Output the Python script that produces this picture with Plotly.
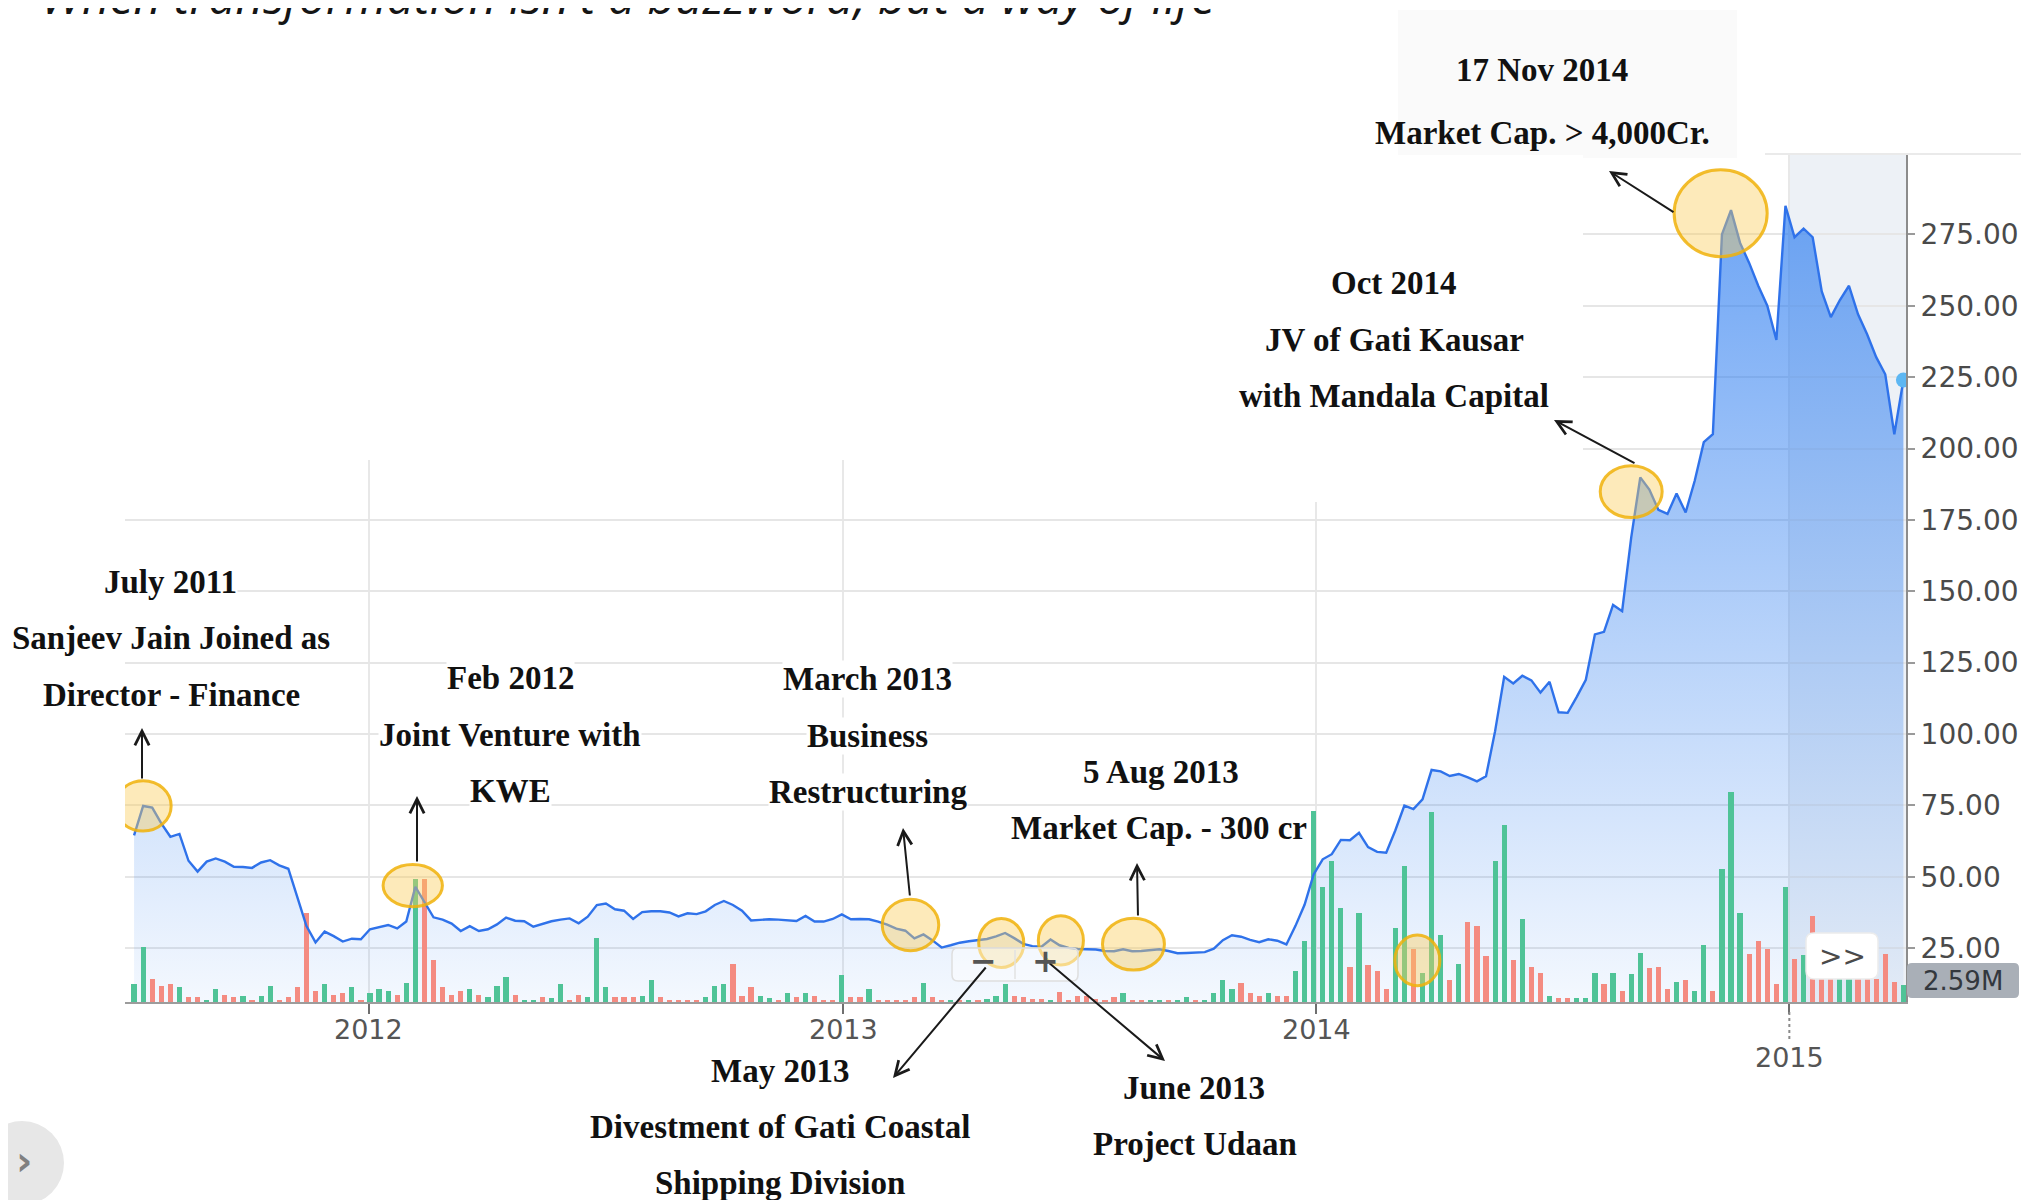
import plotly.graph_objects as go
import pandas as pd

# ---------------- data ----------------
week_start = "2011-07-04"
n_weeks = 196

price = [
    64.5, 74.8, 74.2, 68.7, 64.0, 65.0, 55.6, 51.8, 55.3, 56.4,
    55.3, 53.5, 53.4, 53.1, 55.0, 55.8, 54.0, 52.8, 42.8, 32.7,
    27.0, 30.8, 29.2, 27.3, 28.3, 28.1, 31.6, 32.4, 33.1, 31.9,
    34.3, 46.5, 40.9, 35.8, 35.0, 33.6, 31.0, 32.7, 31.0, 31.6,
    33.3, 35.7, 34.6, 34.4, 32.5, 33.4, 34.4, 35.0, 35.4, 33.7,
    36.0, 40.1, 40.6, 38.6, 38.1, 35.2, 37.6, 37.9, 37.9, 37.5,
    36.1, 37.2, 36.9, 37.9, 40.1, 41.5, 40.1, 38.1, 34.7, 34.9,
    35.1, 35.0, 34.8, 34.5, 36.3, 34.3, 34.3, 35.2, 36.8, 35.1,
    35.2, 35.1, 34.3, 33.2, 31.8, 31.1, 28.4, 29.8, 27.7, 25.2,
    26.0, 26.9, 27.4, 27.7, 28.2, 29.1, 30.3, 28.5, 26.5, 25.7,
    25.5, 28.0, 26.0, 25.1, 24.7, 24.6, 24.5, 24.0, 23.9, 24.6,
    23.9, 24.0, 24.4, 24.6, 24.0, 23.2, 23.3, 23.4, 23.6, 24.8,
    27.8, 29.5, 29.0, 27.9, 27.1, 28.1, 27.6, 26.3, 32.8, 40.2,
    50.8, 56.1, 57.9, 62.9, 62.8, 65.4, 60.4, 58.7, 58.4, 66.2,
    74.9, 73.7, 77.1, 87.4, 86.9, 85.3, 86.0, 84.8, 83.4, 85.2,
    101.0, 120.0, 117.7, 120.4, 118.8, 114.5, 118.3, 107.6, 107.4, 113.0,
    119.0, 134.9, 135.8, 145.2, 143.0, 168.8, 189.9, 185.6, 178.5, 177.1,
    184.2, 177.6, 188.7, 202.2, 205.0, 275.0, 283.5, 272.0, 265.0, 257.0,
    250.0, 238.0, 285.0, 274.0, 277.0, 274.0, 255.0, 246.0, 252.0, 257.0,
    247.0, 240.0, 232.0, 226.0, 205.0, 224.0,
]

volume_m = [
    2.8, 8.3, 3.5, 2.4, 2.8, 2.2, 0.7, 0.7, 0.35, 1.9, 1.0, 0.7, 0.9, 0.35, 0.9, 2.4,
    0.35, 0.7, 2.2, 13.5, 1.7, 2.7, 1.0, 1.4, 2.2, 0.35, 1.4, 1.9, 1.7, 1.0, 2.9, 18.6,
    18.6, 6.4, 2.2, 1.0, 1.7, 1.9, 1.0, 0.7, 2.4, 3.8, 1.0, 0.35, 0.35, 0.7,
    0.65,
    2.7, 0.35, 1.0, 0.75, 9.7, 2.2, 0.75, 0.75, 0.75, 0.9, 3.3, 0.75, 0.35, 0.35, 0.35,
    0.25, 0.75, 2.4, 2.7, 5.7, 0.9, 2.2, 0.9, 0.65, 0.25, 1.3, 0.75, 1.3, 0.9, 0.35,
    0.35, 4.1, 0.75, 0.75, 1.9, 0.25, 0.25, 0.25, 0.35, 0.75, 2.9, 0.75, 0.35,
    0.35, 0.35, 0.35, 0.35, 0.5, 0.9, 2.7, 0.9, 0.75, 0.5, 0.5, 0.35, 1.5, 0.35, 0.9,
    0.9, 0.5, 0.35, 0.75, 1.3, 0.35, 0.35, 0.25, 0.25, 0.25, 0.25, 0.75, 0.25, 0.25,
    1.3, 3.3, 1.9, 2.9, 1.3, 0.9, 1.3, 0.9, 0.9, 4.7,
    9.2, 29.0, 17.4, 21.4, 14.3, 5.3, 13.5, 5.6, 4.7, 1.9, 11.2, 20.6, 8.1, 4.4, 28.8,
    10.1, 3.3, 5.8, 12.1, 11.5, 6.9, 21.4, 26.8, 6.3, 12.6, 5.3, 4.4, 0.85, 0.65, 0.65,
    0.65, 0.65, 4.4, 2.8, 4.4, 1.7, 4.2, 7.4, 5.1, 5.3, 1.9, 3.0, 3.3, 1.6, 8.6, 1.6, 20.2,
    31.8, 13.5, 7.2, 9.3, 8.1, 2.7, 17.5, 6.5, 7.1, 13.0, 4.0, 4.0, 4.0, 4.0, 4.0, 3.5,
    3.5, 7.2, 3.0, 2.59,
]

volume_dir = list(
    "GGRRRGRRGGRRGRGGRRRRRGRRGRGGGRGGRRRRRGRGGGRGGR"
    "G"
    "GRRGGGRRRGGRRRRRGGGRRRGGRGRGRRRGRRGRRRRRGRR"
    "GRGRGGGRRRRGRRRRRRRGRRGGRGGRGGGGRRRGRRG"
    "GGGGGRGRRRGGRGGGRGRRRGGRGRRGRRGGGRGRGGRRRGRGGRG"
    "GGRRRRGRGRRRGGRRRRRG"
)

year_ticks = ["2012-01-01", "2013-01-01", "2014-01-01", "2015-01-01"]
year_labels = ["2012", "2013", "2014", "2015"]
price_ticks = [25, 50, 75, 100, 125, 150, 175, 200, 225, 250, 275]
price_labels = ["%.2f" % v for v in price_ticks]
last_volume_label = "2.59M"

# highlighted events (centre date, price level, half-width in days, half-height in price)
event_dates = ["2011-07-11", "2012-02-04", "2013-02-22", "2013-05-03", "2013-06-18",
               "2013-08-13", "2014-03-20", "2014-09-01", "2014-11-09"]
event_levels = [74.8, 46.9, 33.1, 26.8, 27.7, 26.4, 20.7, 184.9, 282.4]
event_rx_days = [21.6, 22.9, 21.8, 17.4, 17.4, 23.9, 17.4, 23.9, 35.9]
event_ry = [8.8, 7.4, 9.0, 8.6, 8.6, 9.1, 8.9, 9.1, 15.2]

# annotation text lines (text, centre x px, centre y px)
text_lines = [
    ("July 2011", 170, 582), ("Sanjeev Jain Joined as", 171, 638), ("Director - Finance", 171, 695),
    ("Feb 2012", 510, 678), ("Joint Venture with", 510, 735), ("KWE", 510, 791),
    ("March 2013", 867, 679), ("Business", 867, 736), ("Restructuring", 868, 792),
    ("5 Aug 2013", 1161, 772), ("Market Cap. - 300 cr", 1159, 828),
    ("May 2013", 780, 1071), ("Divestment of Gati Coastal", 780, 1127), ("Shipping Division", 780, 1183),
    ("June 2013", 1194, 1088), ("Project Udaan", 1195, 1144),
    ("Oct 2014", 1394, 283), ("JV of Gati Kausar", 1394, 340), ("with Mandala Capital", 1394, 396),
    ("17 Nov 2014", 1542, 70), ("Market Cap. > 4,000Cr.", 1542, 133),
]
# arrows (head x, head y, tail x, tail y) in px
arrows = [
    (142, 728, 142, 780), (417, 796, 417, 863), (903, 828, 910, 897),
    (1137, 863, 1138, 917), (893, 1078, 987, 966), (1165, 1061, 1048, 962),
    (1554, 420, 1636, 464), (1609, 171, 1675, 213),
]
headline = "When transformation isn't a buzzword, but a way of life"

# ---------------- layout geometry ----------------
W, H = 2029, 1200
BODY = 8                      # default page margin of the html body
PL, PR, PT, PB = 125, 1906, 155, 1002   # plot area on screen
X_RANGE = ["2011-06-27", "2015-04-01"]
PX_PER_UNIT = 2.855
Y_RANGE = [(1019.5 - PB) / PX_PER_UNIT, (1019.5 - PT) / PX_PER_UNIT]
VOL_PX_PER_M = 6.6
Y2_RANGE = [0, (PB - PT) / VOL_PX_PER_M]
X0_TS = pd.Timestamp(X_RANGE[0])
X1_TS = pd.Timestamp(X_RANGE[1])


def fx(xp):
    return (xp - PL) / (PR - PL)


def fy(yp):
    return (PB - yp) / (PB - PT)


def date_at(xp):
    return X0_TS + (X1_TS - X0_TS) * fx(xp)


def price_at(yp):
    return Y_RANGE[0] + (Y_RANGE[1] - Y_RANGE[0]) * fy(yp)


def rounded_rect(x0, y0, x1, y1, r):
    X0, X1 = fx(x0), fx(x1)
    Y0, Y1 = fy(y0), fy(y1)
    rx = r / (PR - PL)
    ry = r / (PB - PT)
    return (f"M{X0+rx},{Y0} L{X1-rx},{Y0} Q{X1},{Y0} {X1},{Y0-ry} "
            f"L{X1},{Y1+ry} Q{X1},{Y1} {X1-rx},{Y1} L{X0+rx},{Y1} "
            f"Q{X0},{Y1} {X0},{Y1+ry} L{X0},{Y0-ry} Q{X0},{Y0} {X0+rx},{Y0} Z")


dates = pd.date_range(week_start, periods=n_weeks, freq="7D")
bar_colors = ["#4fc397" if d == "G" else "#f48b81" for d in volume_dir]

fig = go.Figure()
fig.add_trace(go.Scatter(
    x=dates, y=price, mode="lines", line=dict(width=0, color="rgba(0,0,0,0)"),
    fill="tozeroy",
    fillgradient=dict(type="vertical", start=0, stop=290,
                      colorscale=[[0, "rgba(45,125,240,0.04)"], [1, "rgba(45,125,240,0.70)"]]),
    hoverinfo="skip", showlegend=False, yaxis="y"))
fig.add_trace(go.Bar(
    x=dates, y=volume_m, marker=dict(color=bar_colors, line=dict(width=0)),
    width=4.0 * 86400000, yaxis="y2", showlegend=False))
fig.add_trace(go.Scatter(
    x=dates, y=price, mode="lines", line=dict(color="#2f72ea", width=2.4),
    yaxis="y3", showlegend=False))
fig.add_trace(go.Scatter(
    x=[dates[-1]], y=[price[-1]], mode="markers",
    marker=dict(size=15, color="#5db7f3"), yaxis="y3", showlegend=False))

shapes = []
# shaded future region after 2015
shapes.append(dict(type="rect", xref="x", yref="paper", x0=year_ticks[-1], x1=X_RANGE[1],
                   y0=0, y1=1, fillcolor="#edf1f6", line=dict(width=0), layer="below"))
# light panel behind top text
shapes.append(dict(type="rect", xref="paper", yref="paper", x0=fx(1398), x1=fx(1737),
                   y0=fy(158), y1=fy(10), fillcolor="#fafafa", line=dict(width=0), layer="below"))
shapes.append(dict(type="line", xref="paper", yref="paper", x0=fx(1765), x1=fx(2029),
                   y0=fy(154), y1=fy(154), line=dict(color="#e3e3e3", width=1.5), layer="below"))
# white areas behind annotation texts (hide grid)
shapes.append(dict(type="rect", xref="x", yref="y", x0=X0_TS, x1=date_at(1583),
                   y0=price_at(460), y1=Y_RANGE[1], fillcolor="white", line=dict(width=0),
                   layer="between"))
shapes.append(dict(type="rect", xref="x", yref="y", x0=date_at(1236), x1=date_at(1583),
                   y0=price_at(502), y1=Y_RANGE[1], fillcolor="white", line=dict(width=0),
                   layer="between"))
# dotted tick at 2015
shapes.append(dict(type="line", xref="x", yref="paper", x0=year_ticks[-1], x1=year_ticks[-1],
                   y0=fy(1012), y1=fy(1042), line=dict(color="#8a8a8a", width=2, dash="dot")))
# highlight circles
for d, lv, rxd, ry in zip(event_dates, event_levels, event_rx_days, event_ry):
    c = pd.Timestamp(d)
    shapes.append(dict(type="circle", xref="x", yref="y",
                       x0=c - pd.Timedelta(days=rxd), x1=c + pd.Timedelta(days=rxd),
                       y0=lv - ry, y1=lv + ry,
                       fillcolor="rgba(250,205,90,0.42)",
                       line=dict(color="rgba(240,178,10,0.85)", width=3), layer="above"))
# zoom -/+ control
shapes.append(dict(type="path", xref="paper", yref="paper", path=rounded_rect(952, 948, 1078, 981, 6),
                   fillcolor="rgba(255,255,255,0.45)", line=dict(color="#dedede", width=1.5)))
shapes.append(dict(type="line", xref="paper", yref="paper", x0=fx(1015), x1=fx(1015),
                   y0=fy(950), y1=fy(979), line=dict(color="#e2e2e2", width=1.5)))
# >> button
shapes.append(dict(type="path", xref="paper", yref="paper", path=rounded_rect(1806, 933, 1878, 979, 8),
                   fillcolor="white", line=dict(color="#ececec", width=1.5)))
# last value box
shapes.append(dict(type="path", xref="paper", yref="paper", path=rounded_rect(1907, 963, 2019, 998, 5),
                   fillcolor="#a9afb7", line=dict(width=0)))
# bottom-left round button
shapes.append(dict(type="circle", xref="paper", yref="paper", x0=fx(-20), x1=fx(64),
                   y0=fy(1205), y1=fy(1121), fillcolor="#e7e7e7", line=dict(width=0)))

annotations = []
serif = dict(family="Liberation Serif", size=33, color="#111111", weight="bold")
for t, x, y in text_lines:
    bg = "rgba(0,0,0,0)" if t in ("Market Cap. - 300 cr", "17 Nov 2014", "Market Cap. > 4,000Cr.") else "white"
    annotations.append(dict(text=t, xref="paper", yref="paper", x=fx(x), y=fy(y),
                            xanchor="center", yanchor="middle", showarrow=False,
                            font=serif, bgcolor=bg, borderpad=0))
for hx, hy, tx, ty in arrows:
    annotations.append(dict(text="", xref="paper", yref="paper", x=fx(hx), y=fy(hy),
                            ax=tx - hx, ay=ty - hy, showarrow=True, arrowhead=5,
                            arrowsize=1.4, arrowwidth=2, arrowcolor="#1a1a1a",
                            standoff=0, startstandoff=0))
for d, lab in zip(year_ticks, year_labels):
    ypx = 1057 if lab == "2015" else 1029
    annotations.append(dict(text=lab, xref="x", yref="paper", x=d, y=fy(ypx),
                            xanchor="center", yanchor="middle", showarrow=False,
                            font=dict(family="DejaVu Sans", size=27, color="#555555")))
annotations.append(dict(text=headline, xref="paper", yref="paper", x=fx(39), y=fy(-5),
                        xanchor="left", yanchor="middle", showarrow=False,
                        font=dict(family="Open Sans", size=48, color="#151515", style="italic")))


def label(text, xp, yp, font):
    annotations.append(dict(text=text, xref="paper", yref="paper", x=fx(xp), y=fy(yp),
                            xanchor="center", yanchor="middle", showarrow=False, font=font))


label("\u2212", 983, 961, dict(family="DejaVu Sans", size=32, color="#555555", weight="bold"))
label("+", 1045, 961, dict(family="DejaVu Sans", size=32, color="#555555", weight="bold"))
label(">>", 1842, 956, dict(family="DejaVu Sans", size=28, color="#4a4a4a"))
label(last_volume_label, 1963, 981, dict(family="DejaVu Sans", size=26, color="#33383e"))
label("\u203a", 24, 1161, dict(family="DejaVu Sans", size=40, color="#808080", weight="bold"))

fig.update_layout(
    width=W, height=H,
    margin=dict(l=PL - BODY, r=W - PR + BODY, t=PT - BODY, b=H - PB + BODY, pad=0),
    paper_bgcolor="white", plot_bgcolor="white",
    bargap=0, showlegend=False,
    xaxis=dict(type="date", range=X_RANGE, tickvals=year_ticks, showticklabels=False,
               showgrid=True, gridcolor="#e8e8e8", gridwidth=2,
               ticks="outside", ticklen=10, tickwidth=2, tickcolor="#6f6f6f",
               showline=True, linecolor="#9c9c9c", linewidth=2, zeroline=False),
    yaxis=dict(side="right", range=Y_RANGE, tickvals=price_ticks, ticktext=price_labels,
               showgrid=True, gridcolor="#e6e6e6", gridwidth=2,
               ticks="outside", ticklen=7, tickwidth=2, tickcolor="#9a9a9a",
               showline=True, linecolor="#8c8c8c", linewidth=2, zeroline=False,
               tickfont=dict(family="DejaVu Sans", size=28, color="#4a4a4a")),
    yaxis2=dict(overlaying="y", range=Y2_RANGE, visible=False),
    yaxis3=dict(overlaying="y", range=Y_RANGE, visible=False),
    shapes=shapes, annotations=annotations,
)

fig.write_html("out.html")
